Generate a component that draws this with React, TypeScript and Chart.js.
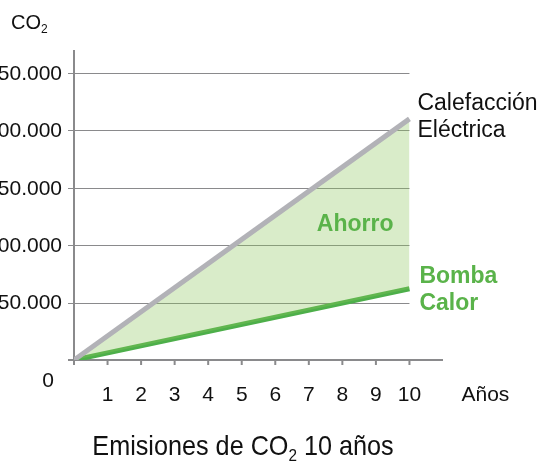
import React, { useEffect, useRef } from "react";
import { Chart, registerables } from "chart.js";

Chart.register(...registerables);

const years = [0, 10];
const electricCO2 = [0, 210000];
const heatPumpCO2 = [0, 62000];
const xTicks = [1, 2, 3, 4, 5, 6, 7, 8, 9, 10];
const yTicks = [50000, 100000, 150000, 200000, 250000];
const yTickLabels = ["50.000", "100.000", "150.000", "200.000", "250.000"];

const AXIS = "#8a8a8c";
const GRAY = "#b2b2b7";
const GREEN = "#4daf4a";
const TEXT_GREEN = "#5ab34a";
const FONT = "'Liberation Sans', Arial, sans-serif";

function subText(
  ctx: CanvasRenderingContext2D,
  x: number,
  y: number,
  parts: [string, boolean][],
  size: number,
  align: "left" | "center",
  family: string,
  sx: number = 1
) {
  const subSize = Math.round(size * 0.6);
  let total = 0;
  for (const [t, sub] of parts) {
    ctx.font = `${sub ? subSize : size}px ${family}`;
    total += ctx.measureText(t).width;
  }
  ctx.save();
  ctx.translate(x, y);
  ctx.scale(sx, 1);
  let cx = align === "center" ? -total / 2 : 0;
  ctx.textAlign = "left";
  ctx.textBaseline = "alphabetic";
  for (const [t, sub] of parts) {
    ctx.font = `${sub ? subSize : size}px ${family}`;
    ctx.fillText(t, cx, sub ? size * 0.22 : 0);
    cx += ctx.measureText(t).width;
  }
  ctx.restore();
}

const decorPlugin = {
  id: "decor",
  beforeDatasetsDraw(chart: any) {
    const { ctx, scales } = chart;
    const xs = scales.x;
    const ys = scales.y;
    const x0 = xs.getPixelForValue(0);
    const x10 = xs.getPixelForValue(10);
    const y0 = ys.getPixelForValue(0);
    ctx.save();
    ctx.strokeStyle = AXIS;
    ctx.lineWidth = 1;
    for (const v of yTicks) {
      const y = Math.round(ys.getPixelForValue(v)) + 0.5;
      ctx.beginPath();
      ctx.moveTo(x0 - 6, y);
      ctx.lineTo(x10, y);
      ctx.stroke();
    }
    ctx.lineWidth = 2;
    ctx.beginPath();
    ctx.moveTo(x0, chart.chartArea.top);
    ctx.lineTo(x0, y0 + 5);
    ctx.moveTo(x0 - 6, y0);
    ctx.lineTo(chart.chartArea.right, y0);
    ctx.stroke();
    for (const v of xTicks) {
      const x = xs.getPixelForValue(v);
      ctx.beginPath();
      ctx.moveTo(x, y0);
      ctx.lineTo(x, y0 + 5);
      ctx.stroke();
    }
    ctx.restore();
  },
  afterDraw(chart: any) {
    const { ctx, scales } = chart;
    const xs = scales.x;
    const ys = scales.y;
    const x0 = xs.getPixelForValue(0);
    const y0 = ys.getPixelForValue(0);
    ctx.save();
    ctx.fillStyle = "#111";
    ctx.font = `21px ${FONT}`;
    ctx.textAlign = "right";
    ctx.textBaseline = "middle";
    yTicks.forEach((v, i) => {
      ctx.fillText(yTickLabels[i], x0 - 12, ys.getPixelForValue(v) + 1);
    });
    ctx.textAlign = "center";
    ctx.fillText("0", x0 - 26, y0 + 21);
    xTicks.forEach((v) => {
      ctx.fillText(String(v), xs.getPixelForValue(v), y0 + 35);
    });
    ctx.textAlign = "left";
    ctx.fillText("Años", xs.getPixelForValue(10) + 52, y0 + 35);
    subText(ctx, 11, 29, [["CO", false], ["2", true]], 20, "left", FONT);
    const xEnd = xs.getPixelForValue(10);
    ctx.font = `23px ${FONT}`;
    ctx.textAlign = "left";
    ctx.textBaseline = "middle";
    ctx.fillText("Calefacción", xEnd + 8, 104);
    ctx.fillText("Eléctrica", xEnd + 8, 131);
    ctx.fillStyle = TEXT_GREEN;
    ctx.font = `bold 23px ${FONT}`;
    ctx.fillText("Bomba", xEnd + 10, 277);
    ctx.fillText("Calor", xEnd + 10, 304);
    ctx.textAlign = "right";
    ctx.fillText("Ahorro", xEnd - 16, 225);
    ctx.fillStyle = "#111";
    subText(
      ctx,
      243,
      455,
      [["Emisiones de CO", false], ["2", true], [" 10 años", false]],
      28,
      "center",
      FONT,
      0.9
    );
    ctx.restore();
  },
};

export default function App() {
  const ref = useRef<HTMLCanvasElement>(null);
  useEffect(() => {
    document.body.style.margin = "0";
    const canvas = ref.current!;
    const chart = new Chart(canvas, {
      type: "line",
      data: {
        datasets: [
          {
            label: "Calefacción Eléctrica",
            data: years.map((x, i) => ({ x, y: electricCO2[i] })),
            borderColor: GRAY,
            borderWidth: 5,
            pointRadius: 0,
            fill: "+1",
            backgroundColor: "rgba(140,198,90,0.33)",
            tension: 0,
          },
          {
            label: "Bomba Calor",
            data: years.map((x, i) => ({ x, y: heatPumpCO2[i] })),
            borderColor: GREEN,
            borderWidth: 5,
            pointRadius: 0,
            fill: false,
            tension: 0,
          },
        ],
      },
      options: {
        animation: false,
        responsive: false,
        devicePixelRatio: 1,
        layout: { padding: { left: 74, right: 101, top: 50, bottom: 106 } },
        plugins: { legend: { display: false }, tooltip: { enabled: false } },
        scales: {
          x: { type: "linear", min: 0, max: 11, display: false },
          y: { type: "linear", min: 0, max: 270000, display: false },
        },
      },
      plugins: [decorPlugin],
    });
    return () => chart.destroy();
  }, []);
  return (
    <div style={{ position: "absolute", left: 0, top: 0 }}>
      <canvas ref={ref} width={544} height={466} style={{ display: "block", width: 544, height: 466 }} />
    </div>
  );
}
